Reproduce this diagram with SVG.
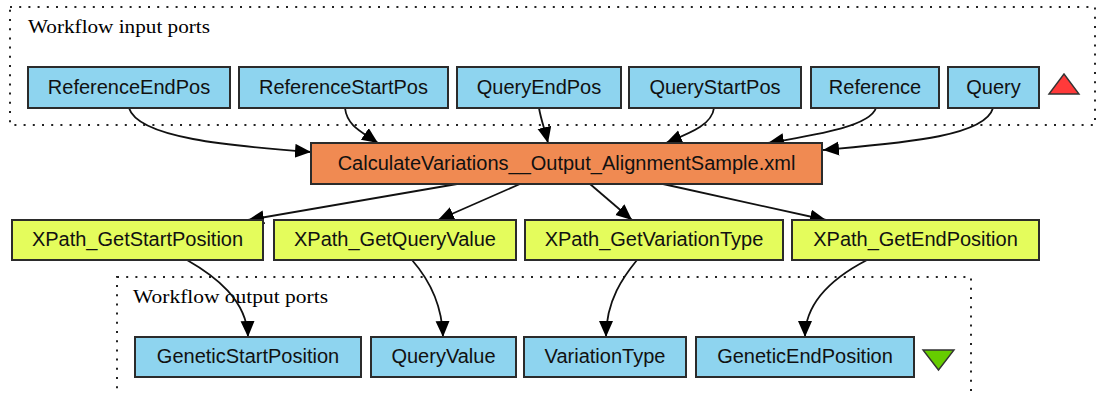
<svg xmlns="http://www.w3.org/2000/svg" width="1098" height="394" viewBox="0 0 1098 394">
<style>
.cluster{fill:none;stroke:#222;stroke-width:2;stroke-dasharray:2 7.2}
.ctitle{font-family:"Liberation Serif",serif;font-size:18px;fill:#000}
.port rect{fill:#8ed4ef;stroke:#2b2b2b;stroke-width:2}
.proc rect{fill:#f08a52;stroke:#2b2b2b;stroke-width:2}
.xp rect{fill:#e4fc5c;stroke:#2b2b2b;stroke-width:2}
.lbl{font-family:"Liberation Sans",Arial,sans-serif;font-size:20px;fill:#111;text-anchor:middle}
.edge{fill:none;stroke:#111;stroke-width:1.8;marker-end:url(#ah)}
</style>
<defs>
<marker id="ah" markerUnits="userSpaceOnUse" markerWidth="18" markerHeight="16" refX="16" refY="7" orient="auto">
<path d="M0,0 L16,7 L0,14 Z" fill="#000"/>
</marker>
</defs>
<rect width="1098" height="394" fill="#fff"/>
<g id="cluster_inputs">
<rect class="cluster" x="10" y="7" width="1085" height="118"/>
<text class="ctitle" x="28" y="33" textLength="182" lengthAdjust="spacingAndGlyphs">Workflow input ports</text>
<polygon points="1049,94 1064,74 1079,94" fill="#ff3a3a" stroke="#333" stroke-width="1.4"/>
</g>
<g id="cluster_outputs">
<rect class="cluster" x="117" y="277" width="854" height="140"/>
<text class="ctitle" x="133" y="303" textLength="195" lengthAdjust="spacingAndGlyphs">Workflow output ports</text>
<polygon points="923,350 954,350 938.5,370" fill="#66cc00" stroke="#333" stroke-width="1.4"/>
</g>
<g id="connectors">
<path class="edge" d="M129,108 C138,138 230,146 311,152"/>
<path class="edge" d="M345,108 C347,126 362,132 378,143"/>
<path class="edge" d="M539,108 C541,120 545,130 548,143"/>
<path class="edge" d="M714,108 C712,125 690,133 666,143"/>
<path class="edge" d="M876,108 C870,126 820,134 768,143"/>
<path class="edge" d="M993,108 C985,137 900,143 823,150"/>
<path class="edge" d="M457,184 L248,220"/>
<path class="edge" d="M520,184 L438,220"/>
<path class="edge" d="M590,184 L632,220"/>
<path class="edge" d="M663,184 L826,220"/>
<path class="edge" d="M187,260 C215,276 247,300 248,337"/>
<path class="edge" d="M412,260 C426,276 442,300 443,337"/>
<path class="edge" d="M637,260 C624,276 606,300 606,337"/>
<path class="edge" d="M867,260 C840,274 805,298 805,337"/>
</g>
<g id="ReferenceEndPos" class="port"><rect x="28" y="67" width="202" height="41"/><text class="lbl" x="129" y="94">ReferenceEndPos</text></g>
<g id="ReferenceStartPos" class="port"><rect x="239" y="67" width="209" height="41"/><text class="lbl" x="343.5" y="94">ReferenceStartPos</text></g>
<g id="QueryEndPos" class="port"><rect x="457" y="67" width="164" height="41"/><text class="lbl" x="539" y="94">QueryEndPos</text></g>
<g id="QueryStartPos" class="port"><rect x="629" y="67" width="172" height="41"/><text class="lbl" x="715" y="94">QueryStartPos</text></g>
<g id="Reference" class="port"><rect x="811" y="67" width="128" height="41"/><text class="lbl" x="875" y="94">Reference</text></g>
<g id="Query" class="port"><rect x="948" y="67" width="91" height="41"/><text class="lbl" x="993.5" y="94">Query</text></g>
<g id="CalculateVariations" class="proc"><rect x="311" y="143" width="511" height="41"/><text class="lbl" x="566.5" y="170">CalculateVariations__Output_AlignmentSample.xml</text></g>
<g id="XPath_GetStartPosition" class="xp"><rect x="12" y="220" width="251" height="40"/><text class="lbl" x="137.5" y="246">XPath_GetStartPosition</text></g>
<g id="XPath_GetQueryValue" class="xp"><rect x="274" y="220" width="242" height="40"/><text class="lbl" x="395" y="246">XPath_GetQueryValue</text></g>
<g id="XPath_GetVariationType" class="xp"><rect x="525" y="220" width="258" height="40"/><text class="lbl" x="654" y="246">XPath_GetVariationType</text></g>
<g id="XPath_GetEndPosition" class="xp"><rect x="792" y="220" width="247" height="40"/><text class="lbl" x="915.5" y="246">XPath_GetEndPosition</text></g>
<g id="GeneticStartPosition" class="port"><rect x="135" y="337" width="226" height="40"/><text class="lbl" x="248" y="363">GeneticStartPosition</text></g>
<g id="QueryValue" class="port"><rect x="371" y="337" width="145" height="40"/><text class="lbl" x="443.5" y="363">QueryValue</text></g>
<g id="VariationType" class="port"><rect x="524" y="337" width="162" height="40"/><text class="lbl" x="605" y="363">VariationType</text></g>
<g id="GeneticEndPosition" class="port"><rect x="696" y="337" width="218" height="40"/><text class="lbl" x="805" y="363">GeneticEndPosition</text></g>
</svg>
